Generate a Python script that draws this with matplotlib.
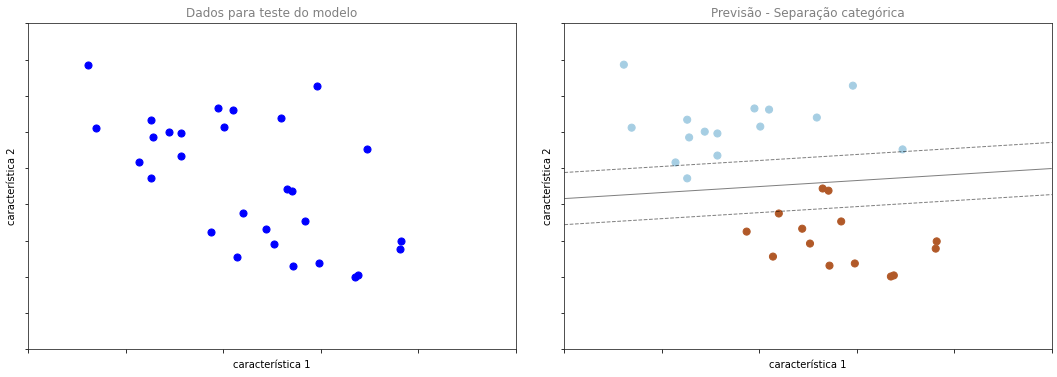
"""Dados de teste e separação categórica por um classificador linear."""

import numpy as np
import matplotlib.pyplot as plt


# coordenadas dos pontos de teste (unidades dos ticks)
feat1 = [0.61, 0.69, 1.26, 1.28, 1.44, 1.57, 1.57, 1.14, 1.26, 1.95, 2.10,
         2.01, 2.59, 2.96, 3.47,
         2.65, 2.71, 2.20, 2.84, 1.87, 2.44, 2.52, 2.14, 2.72, 2.98, 3.35,
         3.38, 3.82, 3.81]
feat2 = [7.86, 6.12, 6.34, 5.85, 6.01, 5.96, 5.35, 5.16, 4.72, 6.65, 6.62,
         6.15, 6.40, 7.28, 5.52,
         4.44, 4.38, 3.75, 3.53, 3.25, 3.33, 2.92, 2.56, 2.31, 2.37, 2.01,
         2.04, 2.98, 2.78]
classes = [0] * 15 + [1] * 14

# função de decisão linear: coef[0]*x + coef[1]*y + intercept
coef = [-0.2306, 1.389]
intercept = -5.781

xlim = (0, 5)
ylim = (0, 9)


def display(outfile="out.png"):
    fig, axes = plt.subplots(1, 2, figsize=(1057 / 72, 377 / 72), dpi=72)
    fig.subplots_adjust(left=0.0268, right=0.995, bottom=0.0735,
                        top=0.938, wspace=0.1)

    ax1, ax2 = axes
    ax1.scatter(feat1, feat2, c="b", s=50)
    ax1.set_title("Dados para teste do modelo", color="#808080", fontsize=12)

    ax2.scatter(feat1, feat2, c=classes, cmap=plt.cm.Paired, s=50)
    xx, yy = np.meshgrid(np.linspace(*xlim, 50), np.linspace(*ylim, 50))
    zz = coef[0] * xx + coef[1] * yy + intercept
    ax2.contour(xx, yy, zz, levels=[-1, 0, 1], colors="k", alpha=0.5,
                linestyles=["--", "-", "--"], linewidths=1)
    ax2.set_title("Previsão - Separação categórica", color="#808080",
                  fontsize=12)

    for ax in axes:
        ax.set_xlim(*xlim)
        ax.set_ylim(*ylim)
        ax.set_xticks(np.arange(0, 6))
        ax.set_yticks(np.arange(0, 10))
        ax.set_xticklabels([])
        ax.set_yticklabels([])
        ax.set_xlabel("característica 1", fontsize=10)
        ax.set_ylabel("característica 2", fontsize=10)
        for s in ax.spines.values():
            s.set_color("#262626")

    plt.savefig(outfile, dpi=72)
    plt.close()


if __name__ == "__main__":
    display()
